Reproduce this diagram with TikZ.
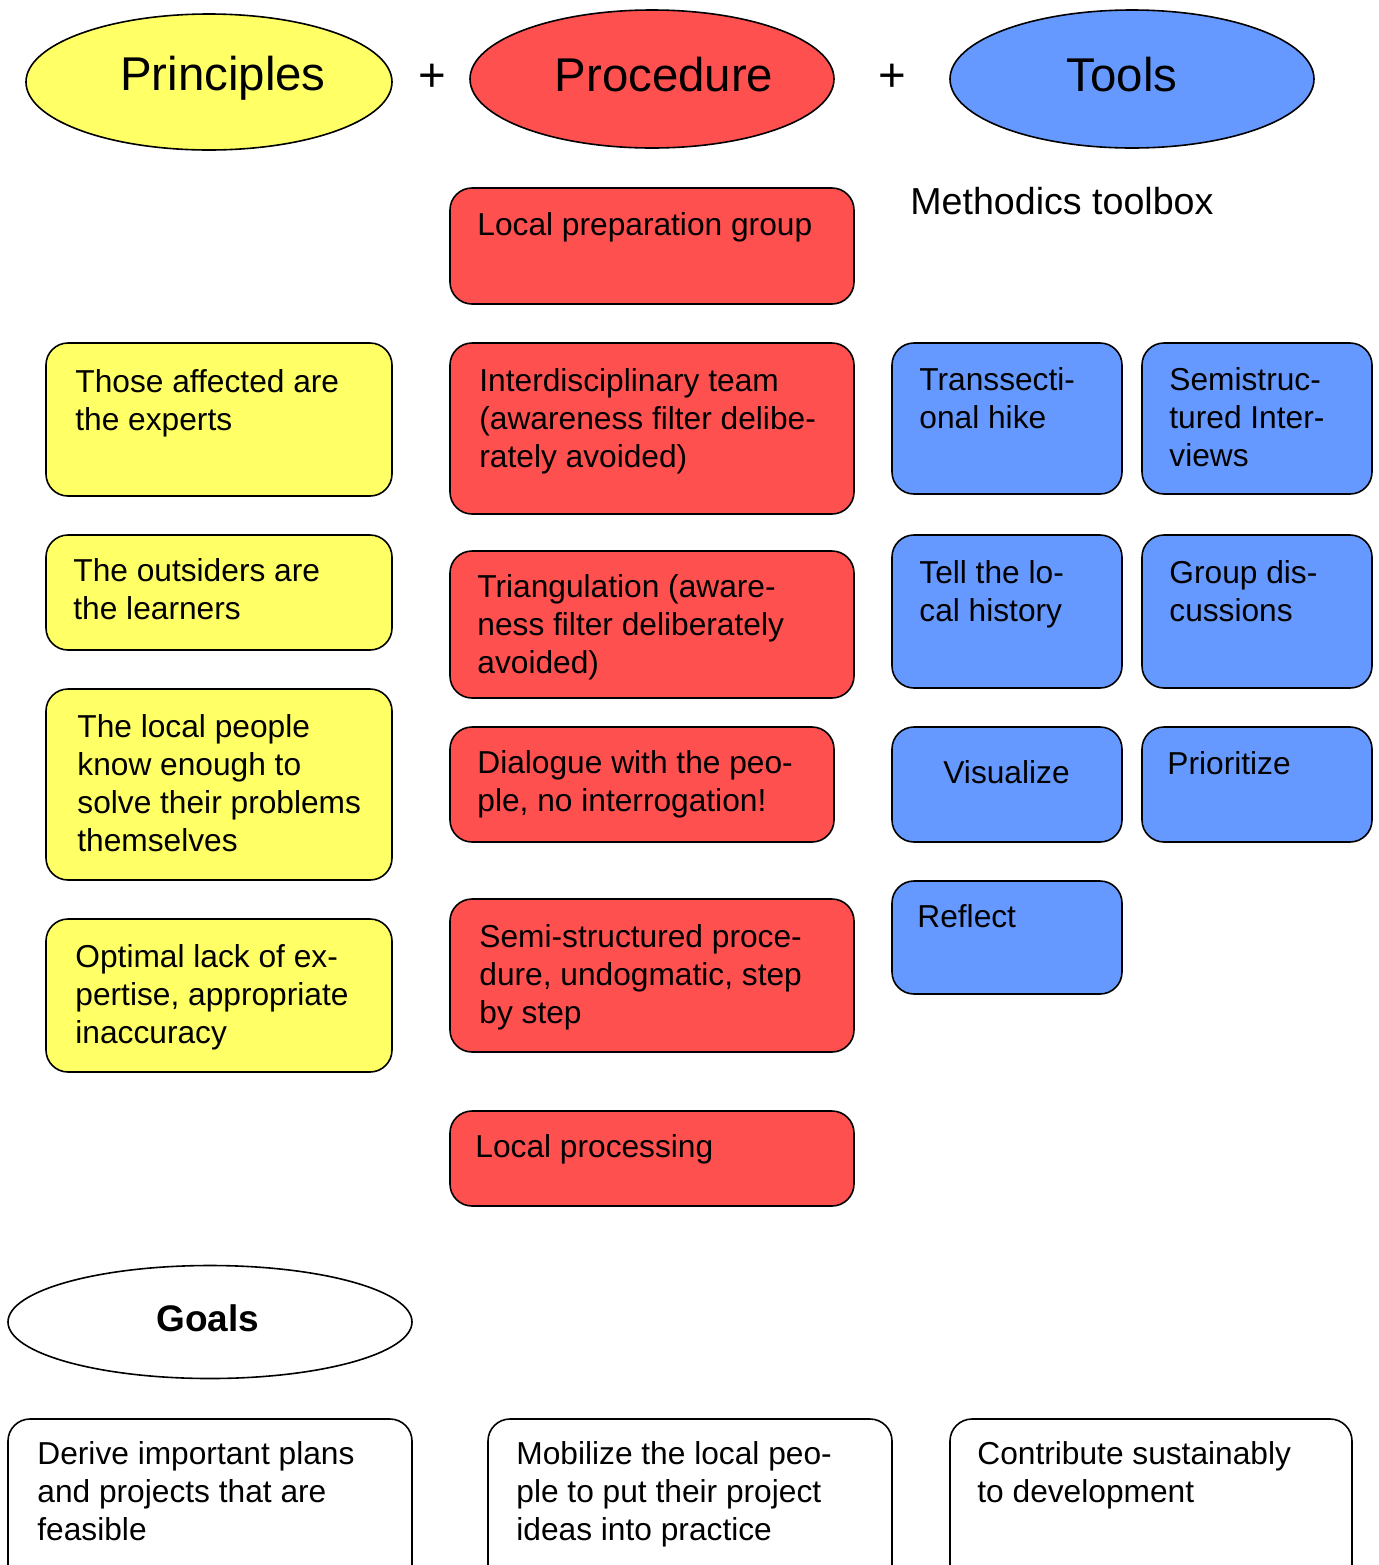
\documentclass[tikz,border=0pt]{standalone}
\usepackage{fontspec}
\setmainfont{Liberation Sans}
\usetikzlibrary{shapes.geometric}
\definecolor{pyellow}{HTML}{FFFF66}
\definecolor{pred}{HTML}{FF5050}
\definecolor{pblue}{HTML}{6699FF}
\tikzset{
  boxbase/.style={draw=black, line width=0.8pt, rounded corners=11pt, inner sep=0pt, outer sep=0pt},
  ybox/.style={boxbase, fill=pyellow},
  rbox/.style={boxbase, fill=pred},
  bbox/.style={boxbase, fill=pblue},
  wbox/.style={boxbase, fill=white},
  ell/.style={draw=black, line width=0.8pt, ellipse, inner sep=0pt, outer sep=0pt},
  txt/.style={anchor=north west, inner sep=0pt, align=left, font=\fontsize{15.85}{19}\selectfont},
  title/.style={anchor=base, inner sep=0pt, font=\fontsize{23.7}{28}\selectfont},
  plus/.style={anchor=center, inner sep=0pt, font=\fontsize{23.7}{28}\selectfont},
}
\newcommand{\pbox}[6]{%
  \node[#1, minimum width={(#5-#3)*0.5pt}, minimum height={(#6-#4)*0.5pt}] (#2) at ({(#3+#5)/2},{(#4+#6)/2}) {};}
\newcommand{\ptext}[4]{\node[txt] (#1) at (#2,#3+1) {#4};}
\begin{document}
\begin{tikzpicture}[x=0.5pt, y=-0.5pt]
\useasboundingbox (0,0) rectangle (1378,1565);
\clip (0,0) rectangle (1378,1565);
% header ellipses
\node[ell, fill=pyellow, minimum width=183pt, minimum height=68pt] (princ) at (209,82) {};
\node[ell, fill=pred, minimum width=182pt, minimum height=69pt] (proc) at (652,79) {};
\node[ell, fill=pblue, minimum width=182pt, minimum height=69pt] (tools) at (1132,79) {};
\node[title] (princt) at (223,90) {Principles};
\node[title] (proct) at (664,91) {Procedure};
\node[title] (toolst) at (1122,91) {Tools};
\node[plus] (plus1) at (432,78) {+};
\node[plus] (plus2) at (892,78) {+};
\node[anchor=north west, inner sep=0pt, font=\fontsize{18.8}{22}\selectfont] (methodics) at (910,187) {Methodics toolbox};
% yellow
\pbox{ybox}{y1}{46}{343}{392}{496}
\pbox{ybox}{y2}{46}{535}{392}{650}
\pbox{ybox}{y3}{46}{689}{392}{880}
\pbox{ybox}{y4}{46}{919}{392}{1072}
\ptext{y1t}{75}{368}{Those affected are\\the experts}
\ptext{y2t}{73}{557}{The outsiders are\\the learners}
\ptext{y3t}{77}{713}{The local people\\know enough to\\solve their problems\\themselves}
\ptext{y4t}{75}{943}{Optimal lack of ex-\\pertise, appropriate\\inaccuracy}
% red
\pbox{rbox}{r1}{450}{188}{854}{304}
\pbox{rbox}{r2}{450}{343}{854}{514}
\pbox{rbox}{r3}{450}{551}{854}{698}
\pbox{rbox}{r4}{450}{727}{834}{842}
\pbox{rbox}{r5}{450}{899}{854}{1052}
\pbox{rbox}{r6}{450}{1111}{854}{1206}
\ptext{r1t}{477}{211}{Local preparation group}
\ptext{r2t}{479}{367}{Interdisciplinary team\\(awareness filter delibe-\\rately avoided)}
\ptext{r3t}{477}{573}{Triangulation (aware-\\ness filter deliberately\\avoided)}
\ptext{r4t}{477}{749}{Dialogue with the peo-\\ple, no interrogation!}
\ptext{r5t}{479}{923}{Semi-structured proce-\\dure, undogmatic, step\\by step}
\ptext{r6t}{475}{1133}{Local processing}
% blue
\pbox{bbox}{b1}{892}{343}{1122}{494}
\pbox{bbox}{b2}{1142}{343}{1372}{494}
\pbox{bbox}{b3}{892}{535}{1122}{688}
\pbox{bbox}{b4}{1142}{535}{1372}{688}
\pbox{bbox}{b5}{892}{727}{1122}{842}
\pbox{bbox}{b6}{1142}{727}{1372}{842}
\pbox{bbox}{b7}{892}{881}{1122}{994}
\ptext{b1t}{919}{366}{Transsecti-\\onal hike}
\ptext{b2t}{1169}{366}{Semistruc-\\tured Inter-\\views}
\ptext{b3t}{919}{559}{Tell the lo-\\cal history}
\ptext{b4t}{1169}{559}{Group dis-\\cussions}
\ptext{b5t}{943}{759}{Visualize}
\ptext{b6t}{1167}{750}{Prioritize}
\ptext{b7t}{917}{903}{Reflect}
% goals
\node[ell, fill=white, minimum width=202pt, minimum height=56.5pt] (goals) at (210,1322) {};
\node[anchor=base, inner sep=0pt, font=\fontsize{18.5}{22}\selectfont\bfseries] (goalst) at (208,1331) {Goals};
\pbox{wbox}{w1}{8}{1419}{412}{1600}
\pbox{wbox}{w2}{488}{1419}{892}{1600}
\pbox{wbox}{w3}{950}{1419}{1352}{1600}
\ptext{w1t}{37}{1440}{Derive important plans\\and projects that are\\feasible}
\ptext{w2t}{516}{1440}{Mobilize the local peo-\\ple to put their project\\ideas into practice}
\ptext{w3t}{977}{1440}{Contribute sustainably\\to development}
\end{tikzpicture}
\end{document}
